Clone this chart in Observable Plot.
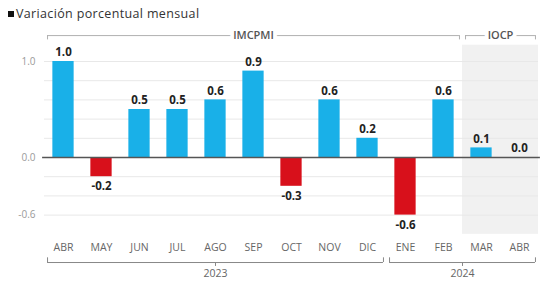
<!DOCTYPE html>
<html><head><meta charset="utf-8">
<script src="https://cdn.jsdelivr.net/npm/d3@7"></script>
<script src="https://cdn.jsdelivr.net/npm/@observablehq/plot@0.6"></script>
<style>
body{margin:0;background:#fff;font-family:"Open Sans",sans-serif;width:544px;height:282px;overflow:hidden;}
#sub{height:24px;position:relative;font-size:12.5px;color:#333;letter-spacing:0.35px;}
#sub span.sq{position:absolute;left:8px;top:11px;width:6px;height:6px;background:#111;}
#sub span.t{position:absolute;left:16px;top:5px;}
</style></head><body>
<div id="sub"><span class="sq"></span><span class="t">Variación porcentual mensual</span></div>
<div id="chart"></div>
<script>
const months = ["ABR","MAY","JUN","JUL","AGO","SEP","OCT","NOV","DIC","ENE","FEB","MAR","ABR"];
const values = [1.0,-0.2,0.5,0.5,0.6,0.9,-0.3,0.6,0.2,-0.6,0.6,0.1,0.0];
const yearGroups = [{label:"2023",from:0,to:8},{label:"2024",from:9,to:12}];
const seriesGroups = [{label:"IMCPMI",from:0,to:10},{label:"IOCP",from:11,to:12}];
const shadedGroup = ["IOCP"];
const yTicks = [1.0,0.0,-0.6];
const gridValues = [-0.6,-0.4,-0.2,0.2,0.4,0.6,0.8,1.0];

const data = months.map((m,i)=>({i, month:m, value:values[i]}));
const blue = "#19b0e8", red = "#d8101b";
const fmt = v => v.toFixed(1);

// layout positions expressed in y data units (outside the plotted domain)
const L = {topLine:1.27, topTick:1.225, shadeTop:1.17, shadeBottom:-0.80,
  monthY:-0.94, botLine:-1.094, botTickUp:-1.045, botTickDown:-1.135, yearY:-1.21, inset:0.08};

const bx1 = g => g.from - 0.5 + L.inset, bx2 = g => g.to + 0.5 - L.inset, bc = g => (g.from + g.to)/2;
const endTicks = (groups) => groups.flatMap(g => [{x:bx1(g)},{x:bx2(g)}]);

const plot = Plot.plot({
  width:544, height:258,
  marginLeft:44, marginRight:6, marginTop:37, marginBottom:67.4,
  style:{fontFamily:"Open Sans, sans-serif", background:"transparent"},
  x:{type:"linear", domain:[-0.5,12.5], axis:null},
  y:{domain:[-0.6,1.0], ticks:yTicks, tickFormat:fmt, tickSize:0, tickPadding:9, label:null},
  marks:[
    Plot.rect(seriesGroups.filter(g=>shadedGroup.includes(g.label)), {x1:g=>g.from-0.5, x2:g=>g.to+0.5, y1:L.shadeBottom, y2:L.shadeTop, fill:"#f1f1f1"}),
    Plot.ruleY(gridValues, {stroke:"#e8e8e8", strokeWidth:1}),
    Plot.axisY({ticks:yTicks, tickFormat:fmt, tickSize:0, tickPadding:9, fill:"#9a9a9a", fontSize:10, label:null}),
    Plot.rect(data, {x1:d=>d.i-0.28, x2:d=>d.i+0.28, y1:0, y2:"value", fill:d=>d.value<0?red:blue}),
    Plot.ruleY([0], {stroke:"#555", strokeWidth:1.3, x1:-0.55, x2:12.55}),
    Plot.text(data.filter(d=>d.value>=0), {x:"i", y:"value", text:d=>fmt(d.value), dy:-9, fontWeight:"bold", fontSize:11.5, fill:"#222"}),
    Plot.text(data.filter(d=>d.value<0), {x:"i", y:"value", text:d=>fmt(d.value), dy:10, fontWeight:"bold", fontSize:11.5, fill:"#222"}),
    // month labels
    Plot.text(data, {x:"i", y:L.monthY, text:"month", fontSize:10.5, fill:"#666"}),
    // bottom year brackets
    Plot.ruleY(yearGroups, {x1:bx1, x2:bx2, y:L.botLine, stroke:"#888", strokeWidth:1}),
    Plot.ruleX(endTicks(yearGroups), {x:"x", y1:L.botLine, y2:L.botTickUp, stroke:"#888"}),
    Plot.ruleX(yearGroups, {x:bc, y1:L.botLine, y2:L.botTickDown, stroke:"#888"}),
    Plot.text(yearGroups, {x:bc, y:L.yearY, text:"label", fontSize:10.5, fill:"#666"}),
    // top series brackets
    Plot.ruleY(seriesGroups, {x1:bx1, x2:bx2, y:L.topLine, stroke:"#b0b0b0", strokeWidth:1}),
    Plot.ruleX(endTicks(seriesGroups), {x:"x", y1:L.topLine, y2:L.topTick, stroke:"#b0b0b0"}),
    Plot.text(seriesGroups, {x:bc, y:L.topLine, text:"label", fontSize:11, fontWeight:600, fill:"#555", stroke:"white", strokeWidth:8})
  ]
});
document.getElementById("chart").appendChild(plot);
</script>
</body></html>
